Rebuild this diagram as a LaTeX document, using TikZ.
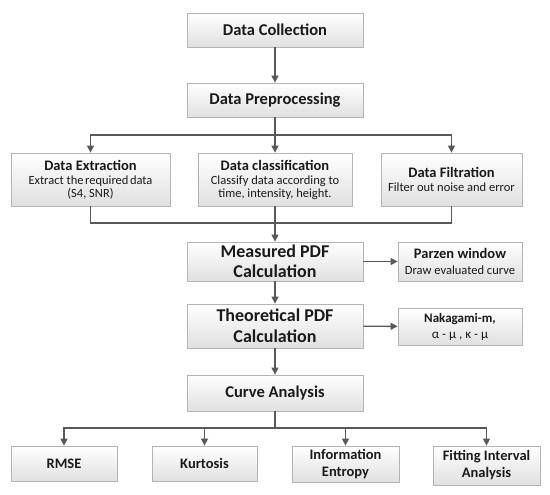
\documentclass[tikz,border=0pt]{standalone}
\usepackage{fontspec}
\setmainfont{Carlito}
\usepackage{tikz}
\usetikzlibrary{arrows.meta, positioning, calc, shadows}
\definecolor{EdgeGray}{HTML}{B4B4B4}
\definecolor{ShadeGray}{HTML}{E0E0E0}
\definecolor{LineGray}{HTML}{595959}
\definecolor{InkBlack}{HTML}{1A1A1A}

\tikzset{
  box/.style={draw=EdgeGray, line width=0.8pt, top color=white, bottom color=ShadeGray,
              text=InkBlack, align=center, inner sep=2pt,
              drop shadow={shadow xshift=1.2pt, shadow yshift=-1.2pt, opacity=0.25, fill=black}},
  bigbox/.style={box, minimum width=176pt, font=\fontsize{16.5}{19}\selectfont\bfseries},
  midbox/.style={box, minimum height=53pt, font=\fontsize{14.5}{15}\selectfont\bfseries},
  sidebox/.style={box, minimum width=124pt},
  lowbox/.style={box, minimum height=35pt, font=\fontsize{14.5}{17}\selectfont\bfseries},
  link/.style={draw=LineGray, line width=1.4pt},
  arr/.style={link, -{Triangle[length=7pt, width=7pt]}},
}
\newcommand{\subline}[1]{{\fontsize{12.5}{15}\selectfont\mdseries #1}}

\begin{document}
\begin{tikzpicture}[x=1pt, y=-1pt]
\useasboundingbox[fill=white] (0,0) rectangle (550,495);

% main column
\node[bigbox, minimum height=34pt] (coll) at (275,30)  {Data Collection};
\node[bigbox, minimum height=34pt] (prep) at (275,100) {Data Preprocessing};

% preprocessing branches
\node[midbox, minimum width=159pt] (extr) at (90.5,179.5)
    {Data Extraction\\[-1pt] \subline{Extract the\hspace{1.5pt}required\hspace{1.5pt}data}\\[-2pt] \subline{(S4, SNR)}};
\node[midbox, minimum width=154pt] (clas) at (275,179.5)
    {Data classification\\[-1pt] \subline{Classify data according to}\\[-2pt] \subline{time, intensity, height.}};
\node[midbox, minimum width=141pt] (filt) at (451.5,179.5)
    {Data Filtration\\[-1pt] \subline{Filter out noise and error}};

% pdf stages
\node[bigbox, minimum height=39pt, font=\fontsize{18}{20}\selectfont\bfseries] (meas) at (275,261.5) {Measured PDF\\Calculation};
\node[bigbox, minimum height=44pt, font=\fontsize{18}{21}\selectfont\bfseries] (theo) at (275,326)   {Theoretical PDF\\Calculation};
\node[bigbox, minimum height=36pt] (curv) at (275,393)   {Curve Analysis};

\node[sidebox, minimum height=39pt, font=\fontsize{14.5}{16}\selectfont\bfseries] (parz) at (460,261.5)
    {Parzen window\\ \subline{Draw evaluated curve}};
\node[sidebox, minimum height=37pt, font=\fontsize{13}{16}\selectfont\bfseries] (naka) at (460,326.5)
    {Nakagami-m,\\ \mdseries α - μ , κ - μ};

% analysis measures
\node[lowbox, minimum width=106pt] (rmse) at (64,463.5)    {RMSE};
\node[lowbox, minimum width=105pt] (kurt) at (204.5,463.5) {Kurtosis};
\node[lowbox, minimum width=107pt, minimum height=36pt] (info) at (345.5,464) {Information\\Entropy};
\node[lowbox, minimum width=107pt, minimum height=39pt] (fitt) at (486.5,465.5) {Fitting Interval\\Analysis};

\coordinate (split) at (275,135);
\coordinate (merge) at (275,223);
\coordinate (fork)  at (275,428);

\draw[arr] (coll) -- (prep);
\draw[link] (prep) -- (split);
\draw[arr] (split) -| (extr);
\draw[arr] (split) -- (clas);
\draw[arr] (split) -| (filt);

\draw[link] (extr) |- (merge);
\draw[link] (filt) |- (merge);
\draw[arr] (clas) -- (meas);

\draw[arr] (meas) -- (parz);
\draw[arr] (meas) -- (theo);
\draw[arr] (theo) -- (naka);
\draw[arr] (theo) -- (curv);

\draw[link] (curv) -- (fork);
\draw[arr] (fork) -| (rmse);
\draw[arr] (fork) -| (kurt);
\draw[arr] (fork) -| (info);
\draw[arr] (fork) -| (fitt);
\end{tikzpicture}
\end{document}
